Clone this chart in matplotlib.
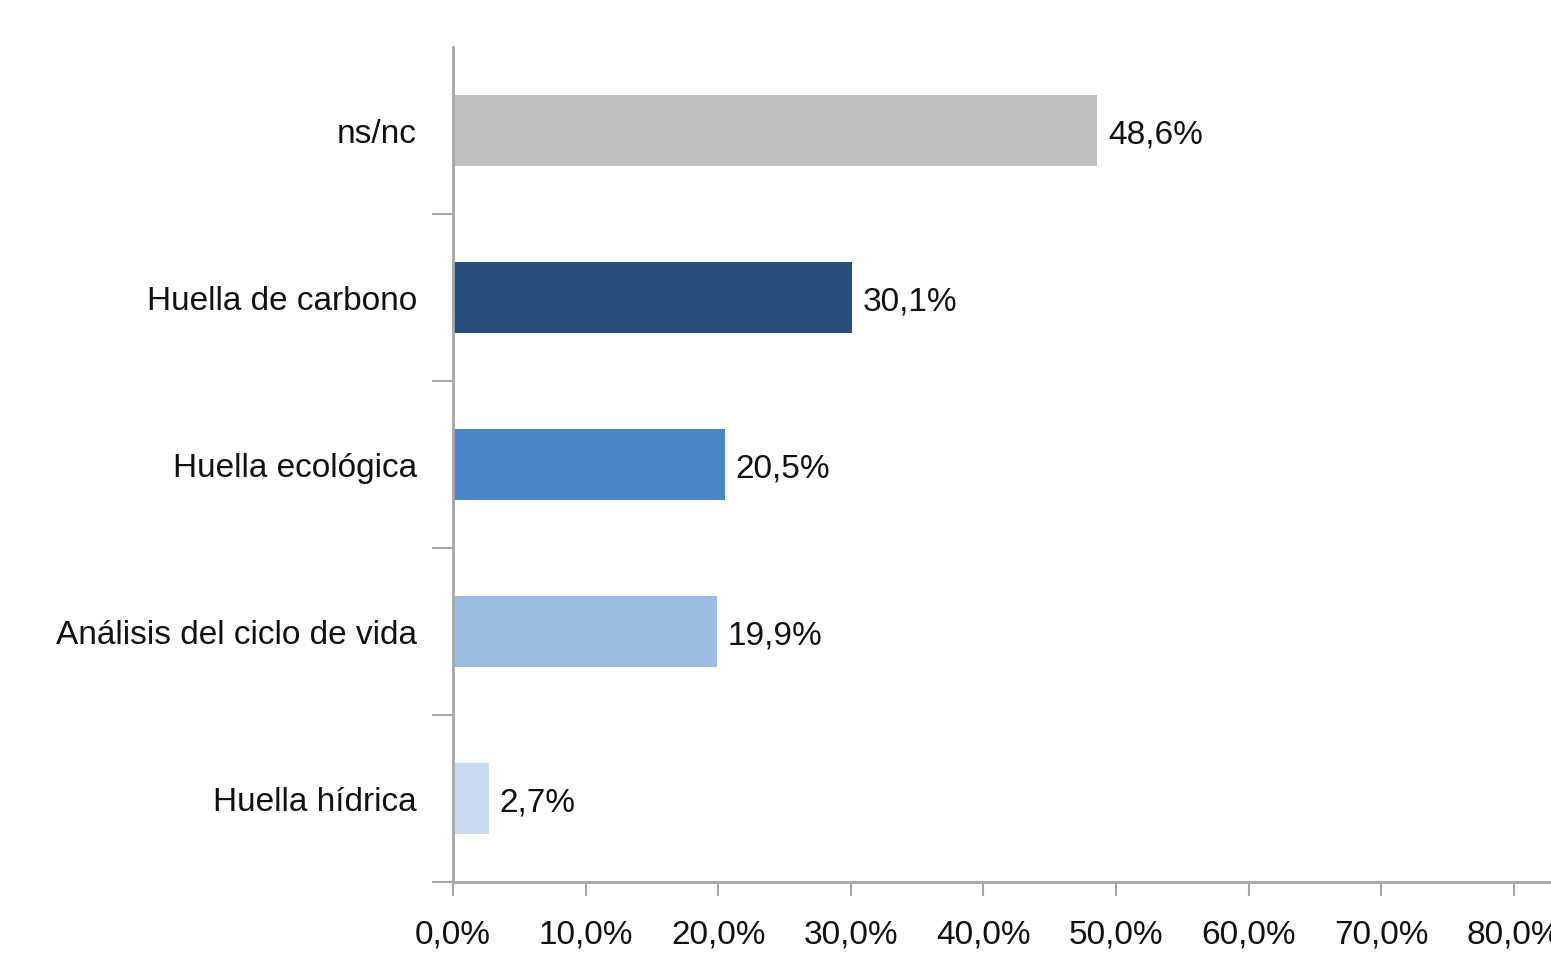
import numpy as np
import matplotlib.pyplot as plt
from matplotlib.ticker import FixedLocator, FuncFormatter

# Data (top to bottom as shown)
categories = ["ns/nc", "Huella de carbono", "Huella ecológica",
              "Análisis del ciclo de vida", "Huella hídrica"]
values = [48.6, 30.1, 20.5, 19.9, 2.7]
colors = ["#BFBFBF", "#264F7D", "#4A86C8", "#9BBCE0", "#C9DAEE"]
x_ticks = [0, 10, 20, 30, 40, 50, 60, 70, 80]

plt.rcParams['font.family'] = ['Liberation Sans', 'DejaVu Sans']

fig = plt.figure(figsize=(15.51, 9.54), dpi=100)
ax = fig.add_axes([453 / 1551, 71 / 954, 1098 / 1551, 835 / 954])

n = len(categories)
ypos = np.arange(n)[::-1]
ax.barh(ypos, values, height=0.42, color=colors, zorder=2)

for y, v in zip(ypos, values):
    ax.text(v + 0.8, y - 0.02, f"{v:.1f}%".replace(".", ","),
            va="center", ha="left", fontsize=24, color="#111111")

ax.set_ylim(-0.5, n - 0.5)
ax.set_xlim(0, 1098 / 132.6 * 10)

# category labels at centers, tick marks at band boundaries
ax.set_yticks(ypos)
ax.set_yticklabels(categories, fontsize=24, color="#111111")
ax.tick_params(axis="y", which="major", length=0, pad=26)
ax.yaxis.set_minor_locator(FixedLocator(np.arange(-0.5, n - 1, 1.0)))
ax.tick_params(axis="y", which="minor", length=15, width=1.5,
               color="#A6A6A6", direction="out")

ax.xaxis.set_major_locator(FixedLocator(x_ticks))
ax.xaxis.set_major_formatter(FuncFormatter(lambda x, p: f"{x:.1f}%".replace(".", ",")))
ax.tick_params(axis="x", length=10, width=1.5, color="#A6A6A6",
               labelsize=24, labelcolor="#111111", pad=16)

for side in ["top", "right"]:
    ax.spines[side].set_visible(False)
for side in ["left", "bottom"]:
    ax.spines[side].set_color("#A6A6A6")
    ax.spines[side].set_linewidth(2)

fig.savefig("out.png", dpi=100, facecolor="white")
